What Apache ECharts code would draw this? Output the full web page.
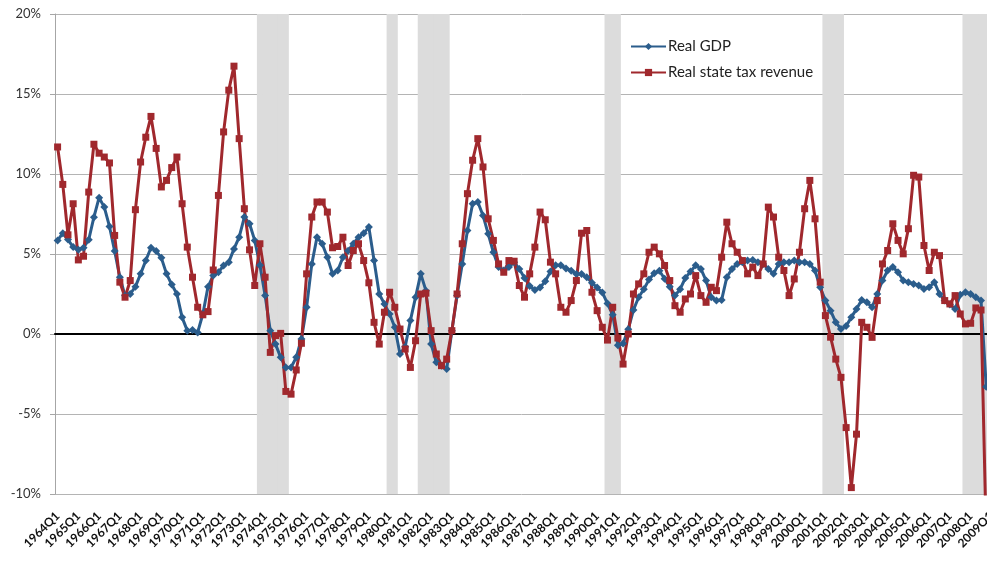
<!DOCTYPE html>
<html>
<head>
<meta charset="utf-8">
<script src="https://cdn.jsdelivr.net/npm/echarts@6/dist/echarts.min.js"></script>
<style>
  html, body { margin: 0; padding: 0; background: #fff; }
  #chart { width: 987px; height: 566px; }
</style>
</head>
<body>
<div id="chart"></div>
<script>
  // category axis: 1964Q1 .. 2009Q1
  let quarters = [];
  for (let y = 1964; y <= 2009; y++) {
    for (let q = 1; q <= 4; q++) {
      if (y === 2009 && q > 1) break;
      quarters.push(y + 'Q' + q);
    }
  }

  let yTicks = [-10, -5, 0, 5, 10, 15, 20];

  // year-over-year % change
  let realGdp = [
    5.85, 6.3, 5.9, 5.43, 5.26, 5.39, 5.89, 7.3, 8.52, 7.93,
    6.72, 5.18, 3.55, 2.4, 2.5, 2.96, 3.76, 4.59, 5.39, 5.18,
    4.76, 3.76, 3.09, 2.5, 1.04, 0.21, 0.25, 0.1, 1.25, 2.96,
    3.65, 3.86, 4.28, 4.49, 5.32, 6.05, 7.31, 6.89, 5.85, 4.3,
    2.4, 0.2, -0.63, -1.46, -2.09, -2.09, -1.46, -0.31, 1.67, 4.38,
    6.05, 5.64, 4.8, 3.76, 3.97, 4.8, 5.2, 5.64, 6.05, 6.3,
    6.68, 4.59, 2.5, 1.88, 1.25, 0.42, -1.25, -0.8, 0.84, 2.3,
    3.76, 2.71, -0.63, -1.77, -1.98, -2.19, 0.2, 2.4, 4.38, 6.47,
    8.14, 8.25, 7.41, 6.26, 5.11, 4.18, 3.97, 4.18, 4.49, 4.07,
    3.5, 3.0, 2.75, 2.9, 3.3, 3.9, 4.3, 4.3, 4.1, 3.95,
    3.75, 3.75, 3.55, 3.2, 2.9, 2.6, 1.9, 1.2, -0.7, -0.6,
    0.3, 1.5, 2.3, 2.8, 3.4, 3.8, 3.95, 3.45, 2.95, 2.4,
    2.8, 3.5, 3.9, 4.3, 4.07, 3.34, 2.3, 2.09, 2.13, 3.55,
    4.07, 4.38, 4.49, 4.59, 4.63, 4.49, 4.38, 4.07, 3.76, 4.38,
    4.49, 4.49, 4.59, 4.49, 4.49, 4.38, 3.97, 2.92, 2.09, 1.46,
    0.73, 0.31, 0.5, 1.04, 1.57, 2.13, 1.98, 1.67, 2.5, 3.34,
    3.97, 4.18, 3.86, 3.34, 3.24, 3.13, 3.03, 2.82, 2.92, 3.24,
    2.5, 2.09, 1.84, 1.57, 2.46, 2.61, 2.5, 2.3, 2.09, -3.3
  ];

  let stateTax = [
    11.69, 9.35, 6.2, 8.14, 4.63, 4.86, 8.87, 11.86, 11.3, 11.06,
    10.69, 6.16, 3.24, 2.3, 3.34, 7.77, 10.75, 12.3, 13.6, 11.6,
    9.19, 9.6, 10.4, 11.06, 8.14, 5.43, 3.55, 1.67, 1.2, 1.4,
    4.0, 8.66, 12.63, 15.24, 16.74, 12.21, 7.83, 5.26, 3.03, 5.64,
    3.55, -1.15, -0.1, 0.04, -3.59, -3.76, -2.25, -0.58, 3.76, 7.31,
    8.25, 8.25, 7.62, 5.39, 5.47, 6.05, 4.28, 5.22, 5.64, 4.59,
    3.2, 0.73, -0.63, 1.36, 2.61, 1.67, 0.31, -0.94, -2.09, -0.42,
    2.5, 2.55, 0.21, -1.25, -1.98, -1.57, 0.21, 2.5, 5.64, 8.77,
    10.86, 12.21, 10.44, 7.2, 5.85, 4.38, 3.86, 4.59, 4.55, 3.03,
    2.3, 3.76, 5.43, 7.62, 7.14, 4.49, 3.76, 1.67, 1.36, 2.09,
    3.34, 6.3, 6.47, 2.61, 1.46, 0.42, -0.38, 1.67, -0.25, -1.88,
    0, 2.5, 3.13, 3.76, 5.11, 5.43, 5.01, 4.28, 3.34, 1.77,
    1.36, 2.19, 2.5, 3.65, 2.4, 1.98, 2.92, 2.71, 4.8, 6.99,
    5.64, 5.11, 4.59, 3.76, 4.18, 3.65, 4.38, 7.93, 7.31, 4.8,
    3.97, 2.4, 3.44, 5.11, 7.83, 9.6, 7.2, 3.24, 1.15, -0.2,
    -1.57, -2.71, -5.85, -9.6, -6.26, 0.73, 0.42, -0.21, 2.09, 4.38,
    5.22, 6.89, 5.85, 5.01, 6.58, 9.92, 9.81, 5.53, 3.97, 5.11,
    4.9, 2.09, 1.88, 2.4, 1.25, 0.63, 0.67, 1.63, 1.5, -12.6
  ];

  // shaded recession quarters (first, last)
  let recessions = [
    ['1973Q4', '1975Q1'],
    ['1980Q1', '1980Q2'],
    ['1981Q3', '1982Q4'],
    ['1990Q3', '1991Q1'],
    ['2001Q1', '2001Q4'],
    ['2007Q4', '2009Q1']
  ];

  let shade = quarters.map(function (q, i) {
    for (let k = 0; k < recessions.length; k++) {
      let a = quarters.indexOf(recessions[k][0]);
      let b = quarters.indexOf(recessions[k][1]);
      if (i >= a && i <= b) return 1;
    }
    return '-';
  });

  let font = 'Lato, "Open Sans", sans-serif';

  let option = {
    animation: false,
    backgroundColor: '#fff',
    textStyle: {fontFamily: font},
    grid: {left: 55, top: 14, right: -7, bottom: 72, outerBoundsMode: 'none', containLabel: false},
    legend: {
      left: 625,
      top: 34,
      orient: 'vertical',
      itemWidth: 35,
      itemHeight: 9,
      itemGap: 11,
      data: ['Real GDP', 'Real state tax revenue'],
      textStyle: {fontFamily: font, fontSize: 15, color: '#222', padding: [0, 0, 0, -3]}
    },
    xAxis: [{
      type: 'category',
      data: quarters,
      z: 2,
      axisLine: {onZero: true, onZeroAxisIndex: 0, lineStyle: {color: '#000', width: 2}},
      axisTick: {interval: 3, length: 4, lineStyle: {color: '#000', width: 2}},
      axisLabel: {show: false},
      splitLine: {show: false}
    }, {
      type: 'category',
      data: quarters,
      position: 'bottom',
      axisLine: {show: false, onZero: false},
      axisTick: {show: false},
      axisLabel: {interval: 3, rotate: 45, margin: 20, fontSize: 12, fontWeight: 'bold', color: '#111', fontFamily: font}
    }],
    yAxis: [{
      type: 'value',
      min: yTicks[0],
      max: yTicks[yTicks.length - 1],
      interval: 5,
      axisLine: {show: true, lineStyle: {color: '#a6a6a6'}},
      axisTick: {show: true, length: 5, lineStyle: {color: '#a6a6a6'}},
      axisLabel: {formatter: '{value}%', fontSize: 13, color: '#333', margin: 14, fontFamily: font},
      splitLine: {lineStyle: {color: '#b4b4b4', width: 1}}
    }, {
      type: 'value',
      show: false,
      min: 0,
      max: 1
    }],
    series: [{
      name: 'recession',
      type: 'bar',
      yAxisIndex: 1,
      data: shade,
      barWidth: 6,
      itemStyle: {color: '#dcdcdc'},
      silent: true,
      z: 1
    }, {
      name: 'Real GDP',
      type: 'line',
      data: realGdp,
      symbol: 'diamond',
      symbolSize: 8,
      showAllSymbol: true,
      lineStyle: {width: 3, color: '#2b5d8c'},
      itemStyle: {color: '#2b5d8c'},
      z: 3
    }, {
      name: 'Real state tax revenue',
      type: 'line',
      data: stateTax,
      symbol: 'rect',
      symbolSize: 7,
      showAllSymbol: true,
      lineStyle: {width: 3, color: '#a0282d'},
      itemStyle: {color: '#a0282d'},
      z: 3
    }]
  };

  let myChart = echarts.init(document.getElementById('chart'));
  myChart.setOption(option);
</script>
</body>
</html>
